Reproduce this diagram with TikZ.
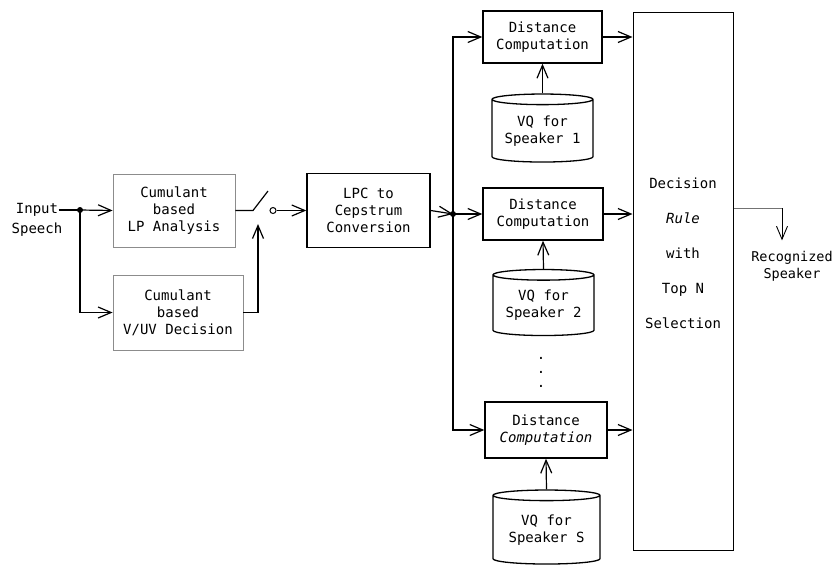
\documentclass[tikz,border=0pt]{standalone}
\usepackage{fontspec}
\usepackage{tikz}
\usetikzlibrary{positioning,arrows.meta,shapes.geometric}
\newfontfamily\diagfont{DejaVu Sans Mono}

\begin{document}
\begin{tikzpicture}
[
x=1pt, y=-1pt,
line width=1.2pt,
every node/.style={font=\diagfont\fontsize{14}{17}\selectfont},
box-a/.style={rectangle, draw, line width=1.4pt, align=center, inner sep=0pt},
box-b/.style={rectangle, draw=black!45, line width=0.8pt, align=center, inner sep=0pt},
cyl-a/.style={cylinder, draw, line width=1.3pt, shape border rotate=90, aspect=0.14,
              minimum width=101pt, minimum height=68pt, align=center, inner sep=0pt},
text-a/.style={black, align=center, inner sep=0pt},
dot-a/.style={circle, fill, inner sep=0pt, minimum size=6pt},
arr-a/.style={-{Straight Barb[length=13pt,width=11pt]}}
]
\useasboundingbox (0,0) rectangle (835,568);

% front end
\node (in-a)     [text-a]                                 at (37,210)  {Input};
\node (in-b)     [text-a, below = 5pt of in-a]                         {Speech};
\coordinate (split) at (80,210);
\node (split-dot) [dot-a] at (split) {};
\node (lp-box)   [box-b, minimum width=122pt, minimum height=73pt] at (174,210.5)
                 {Cumulant\\based\\LP Analysis};
\node (uv-box)   [box-b, minimum width=130pt, minimum height=75pt] at (178,312.5)
                 {Cumulant\\based\\V/UV Decision};
\node (lpc-box)  [box-a, minimum width=123pt, minimum height=74pt] at (368.5,210.5)
                 {LPC to\\Cepstrum\\Conversion};

% switch
\coordinate (sw-pivot) at (253,210.5);
\coordinate (sw-end)   at (268,191);
\coordinate (sw-ctl)   at (258,224);
\node (sw-pole) [circle, draw, line width=1pt, inner sep=0pt, minimum size=6pt] at (273,210.5) {};

% speaker models
\node (dist-1)   [box-a, minimum width=119pt, minimum height=52pt] at (542.5,37)
                 {Distance\\Computation};
\node (vq-1)     [cyl-a] at (542.5,131) {VQ for\\Speaker 1};
\node (dist-2)   [box-a, minimum width=120pt, minimum height=52pt] at (543,214)
                 {Distance\\Computation};
\node (vq-2)     [cyl-a, minimum height=66pt] at (543.5,305.5) {VQ for\\Speaker 2};
\node (dots)     [text-a] at (541,372) {.\\[-3pt].\\[-3pt].};
\node (dist-s)   [box-a, minimum width=122pt, minimum height=56pt] at (546,430)
                 {Distance\\\textsl{Computation}};
\node (vq-s)     [cyl-a, minimum width=107pt, minimum height=74pt] at (546.5,530) {VQ for\\Speaker S};
\coordinate (bus) at (453,214);
\node (bus-dot) [dot-a] at (bus) {};

% decision
\node (decision) [rectangle, draw, line width=1pt, minimum width=100pt, minimum height=538pt] at (683,281) {};
\node (rule)     [text-a, font=\diagfont\fontsize{14}{35}\selectfont] at (683,253)
                 {Decision\\\textsl{Rule}\\with\\Top N\\Selection};
\coordinate (out-turn) at (782,208);
\node (result)   [text-a, font=\diagfont\fontsize{13.5}{17}\selectfont] at (792,266) {Recognized\\Speaker};

% connectors
\draw (in-a.east) -- (split);
\draw [arr-a] (split) -- (lp-box.west);
\draw [arr-a] (split) |- (uv-box.west);
\draw (lp-box.east) -- (sw-pivot) -- (sw-end);
\draw [arr-a] (uv-box.east) -| (sw-ctl);
\draw [arr-a] (sw-pole.east) -- (lpc-box.west);
\draw [arr-a] (lpc-box.east) -- (bus);
\draw [arr-a] (bus) |- (dist-1.west);
\draw [arr-a] (bus) -- (dist-2.west);
\draw [arr-a] (bus) |- (dist-s.west);
\draw [arr-a] (vq-1.top) -- (dist-1.south);
\draw [arr-a] (vq-2.top) -- (dist-2.south);
\draw [arr-a] (vq-s.top) -- (dist-s.south);
\draw [arr-a] (dist-1.east) -- (dist-1.east -| decision.west);
\draw [arr-a] (dist-2.east) -- (dist-2.east -| decision.west);
\draw [arr-a] (dist-s.east) -- (dist-s.east -| decision.west);
\draw [black!55, line width=0.8pt] (decision.east |- out-turn) -- (out-turn);
\draw [arr-a, line width=0.9pt] (out-turn) -- ([yshift=10pt]out-turn |- result.north);
\end{tikzpicture}
\end{document}
